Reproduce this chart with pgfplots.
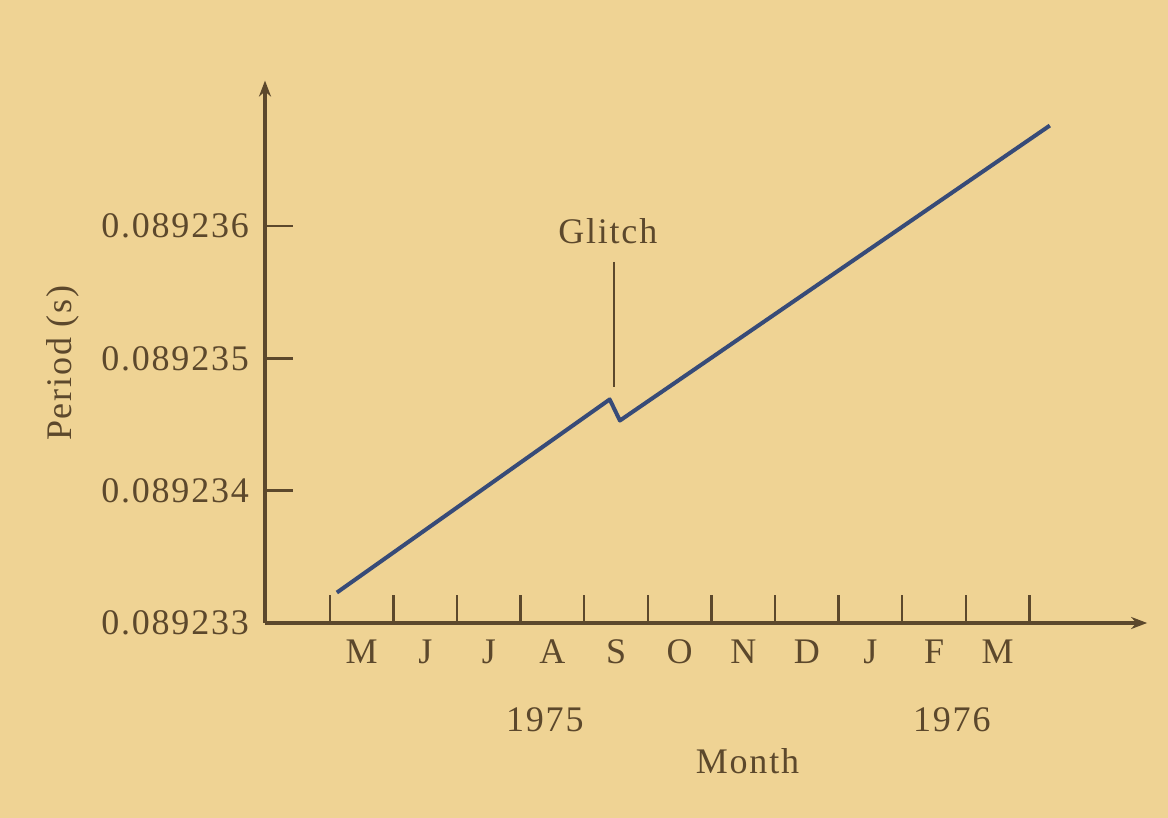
\documentclass[border=0pt]{standalone}
\usepackage{fontspec}
\setmainfont{Liberation Serif}[LetterSpace=5]
\usepackage{pgfplots}
\pgfplotsset{compat=1.18}
\usetikzlibrary{arrows.meta}
\definecolor{paper}{RGB}{239,211,148}
\definecolor{ink}{RGB}{92,72,44}
\definecolor{slate}{RGB}{55,75,120}
\newcommand{\lab}{\fontsize{18}{20}\selectfont}

\begin{document}
\begin{tikzpicture}
  % page: 1168 x 818 px at 0.5pt per px
  \fill[paper] (0,0) rectangle (584pt,409pt);
  \path[use as bounding box] (0,0) rectangle (584pt,409pt);
  \begin{axis}[
    at={(132.5pt,97.5pt)}, anchor=south west,
    x=31.8pt, y=66.15pt,
    xmin=-1.02, xmax=12.85, ymin=0, ymax=4.10,
    axis lines=left,
    axis line style={ink, line width=1.8pt, -{Stealth[length=8pt,width=6pt]}},
    tick align=inside, major tick length=14pt,
    every tick/.append style={ink, line width=1.2pt},
    xtick={0,...,11}, x tick label as interval,
    xticklabels={M,J,J,A,S,O,N,D,J,F,M},
    ytick={0,1,2,3},
    yticklabels={0.089233,0.089234,0.089235,0.089236},
    tick label style={font=\lab, text=ink},
    xticklabel style={yshift=-5pt},
    yticklabel style={xshift=-4.5pt},
    xlabel={Month}, ylabel={Period (s)},
    label style={font=\lab, text=ink},
    xlabel style={at={(axis description cs:0.547,-0.254)}, anchor=center},
    ylabel style={at={(axis description cs:-0.229,0.479)}, anchor=center},
    clip=false]
    % period minus 0.089233 s, in microseconds; x in months from 1 May 1975
    \addplot[slate, line width=2pt, line join=round]
      coordinates {(0.11,0.23)(4.40,1.69)(4.56,1.53)(11.32,3.76)};
    \node[font=\lab, text=ink] at (axis cs:3.38,-0.73) {1975};
    \node[font=\lab, text=ink] at (axis cs:9.78,-0.73) {1976};
    \node[font=\lab, text=ink] at (axis cs:4.37,2.96) {Glitch};
    \draw[ink, line width=1.2pt] (axis cs:4.47,2.73) -- (axis cs:4.47,1.78);
  \end{axis}
\end{tikzpicture}
\end{document}
